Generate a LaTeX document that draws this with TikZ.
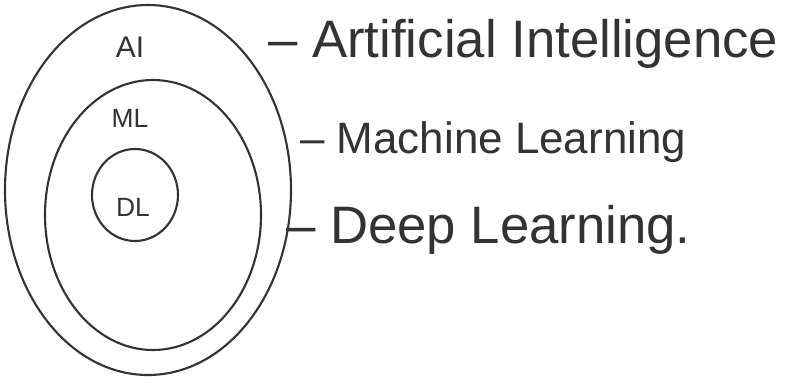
\documentclass[tikz,border=0pt]{standalone}
\usepackage{fontspec}
\setmainfont{Liberation Sans}
\begin{document}
\begin{tikzpicture}[x=0.02cm,y=-0.02cm,
  ink/.style={draw=black!80, line width=1.2pt},
  lbl/.style={text=black!80, inner sep=0pt},
  side/.style={text=black!80, inner sep=0pt, anchor=west}]
\useasboundingbox[fill=white] (0,0) rectangle (795,383);
\draw[ink] (148,190) ellipse [x radius=143, y radius=185];
\draw[ink] (153,215) ellipse [x radius=108, y radius=135];
\draw[ink] (135,195) ellipse [x radius=43, y radius=46];
\node[lbl, font=\fontsize{17}{20}\selectfont] (ai) at (130,47) {AI};
\node[lbl, font=\fontsize{15}{18}\selectfont] (ml) at (130,118) {ML};
\node[lbl, font=\fontsize{15}{18}\selectfont] (dl) at (133,207) {DL};
\node[side, font=\fontsize{30}{34}\selectfont] (t1) at (268,44) {– Artificial Intelligence};
\node[side, font=\fontsize{25}{30}\selectfont] (t2) at (300,142) {– Machine Learning};
\node[side, font=\fontsize{30}{34}\selectfont] (t3) at (286,230) {– Deep Learning.};
\end{tikzpicture}
\end{document}
